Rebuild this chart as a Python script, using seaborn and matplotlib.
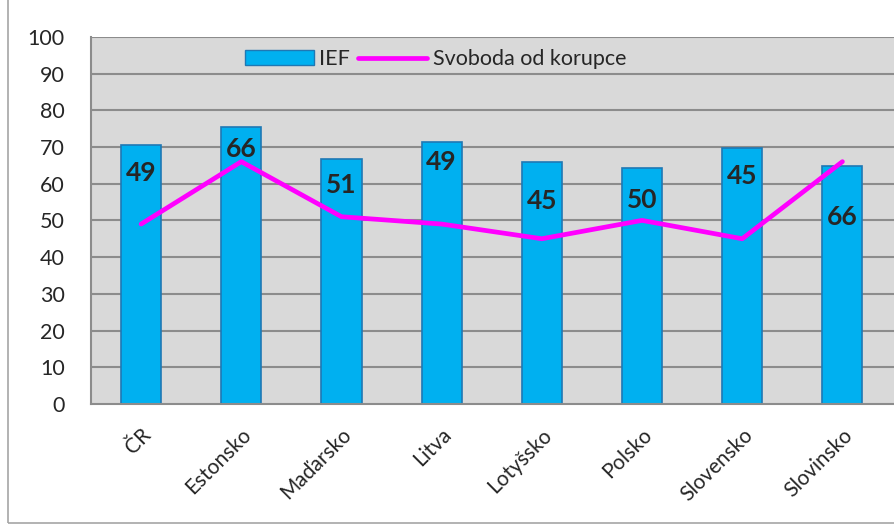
import numpy as np
import pandas as pd
import seaborn as sns
import matplotlib.pyplot as plt
from matplotlib.patches import Patch, Rectangle
from matplotlib.lines import Line2D

# data
countries = ['ČR', 'Estonsko', 'Maďarsko', 'Litva', 'Lotyšsko', 'Polsko', 'Slovensko', 'Slovinsko']
ief = [70.6, 75.4, 66.8, 71.4, 66.0, 64.2, 69.6, 64.8]
svoboda = [49, 66, 51, 49, 45, 50, 45, 66]
yticks = [0, 10, 20, 30, 40, 50, 60, 70, 80, 90, 100]

# where the value labels sit relative to the line point (points)
label_dy = [37, 9, 23, 45, 27, 15, 45, -40]

bar_color = '#00b0f0'
bar_edge = '#1f78b4'
line_color = '#ff00ff'
grid_color = '#8c8c8c'

sns.set_style('white')
plt.rcParams['font.family'] = ['Lato', 'DejaVu Sans']

df = pd.DataFrame({'country': countries, 'ief': ief})

fig = plt.figure(figsize=(8.95, 5.26), dpi=100)
ax = fig.add_axes([0.1017, 0.232, 0.9, 0.698])
ax.set_facecolor('#d9d9d9')

# gridlines behind bars
for v in yticks[1:]:
    ax.axhline(v, color=grid_color, lw=1.5, zorder=0)

sns.barplot(data=df, x='country', y='ief', color=bar_color, width=0.4,
            edgecolor=bar_edge, linewidth=1.2, saturation=1, ax=ax, zorder=2)

x = np.arange(len(countries))
sns.lineplot(x=x, y=svoboda, color=line_color, lw=3.4, ax=ax, zorder=3)

for xi, v, dy in zip(x, svoboda, label_dy):
    ax.annotate(str(v), (xi, v), xytext=(0, dy), textcoords='offset points',
                ha='center', va='center', fontsize=19, fontweight='bold', zorder=4)

ax.set_xlim(-0.5, len(countries) - 0.5 + 0.04)
ax.set_ylim(0, 100)
ax.set_yticks(yticks)
ax.set_xlabel('')
ax.set_ylabel('')

# ticks at category borders, labels at centres
ax.set_xticks(x)
ax.set_xticklabels(countries, rotation=45, ha='right', rotation_mode='anchor', fontsize=15)
ax.set_xticks(np.arange(len(countries) + 1) - 0.5, minor=True)
ax.tick_params(axis='x', which='major', length=0, pad=15)
ax.tick_params(axis='x', which='minor', length=7, color=grid_color, width=1.2)
ax.tick_params(axis='y', length=9, color=grid_color, width=1.2, labelsize=15.5, pad=10)

for side in ['top', 'right']:
    ax.spines[side].set_visible(False)
for side in ['left', 'bottom']:
    ax.spines[side].set_color(grid_color)
    ax.spines[side].set_linewidth(1.5)

handles = [Patch(facecolor=bar_color, edgecolor=bar_edge, label='IEF'),
           Line2D([0], [0], color=line_color, lw=3.4, label='Svoboda od korupce')]
ax.legend(handles=handles, loc='upper left', bbox_to_anchor=(0.18, 0.99), ncol=2,
          frameon=False, fontsize=15.5, handlelength=3.2, handletextpad=0.25,
          columnspacing=0.4, borderaxespad=0)

# outer chart frame
fig.patches.append(Rectangle((0.009, 0.006), 1.2, 1.2, transform=fig.transFigure,
                             fill=False, edgecolor='#a6a6a6', lw=1.2))

fig.savefig('out.png', dpi=100)
